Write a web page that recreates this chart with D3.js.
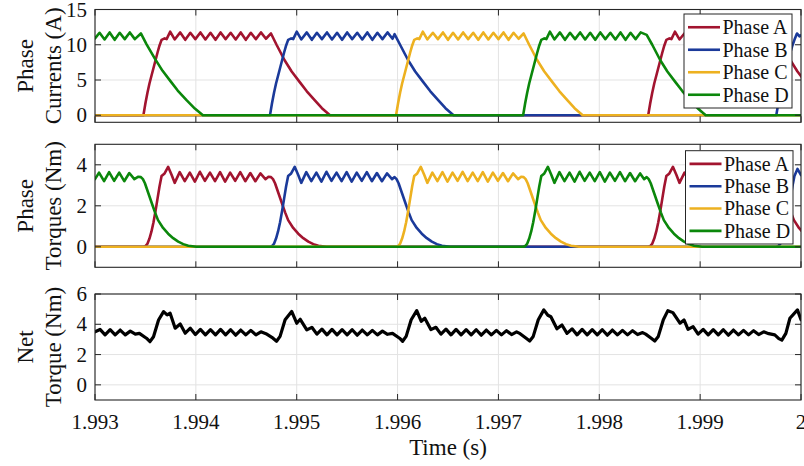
<!DOCTYPE html>
<html>
<head>
<meta charset="utf-8">
<script src="https://cdn.jsdelivr.net/npm/d3@7"></script>
<style>
  body { margin: 0; background: #fff; }
  svg { display: block; }
</style>
</head>
<body>
<svg id="chart" width="804" height="466"></svg>
<script>
// Time samples are given in ms after the start of the window (1.993 s).
const timeOriginS = 1.993;
const xTickValues = [1.993, 1.994, 1.995, 1.996, 1.997, 1.998, 1.999, 2.0];
const xTickLabels = ["1.993", "1.994", "1.995", "1.996", "1.997", "1.998", "1.999", "2"];

const phaseNames = ["Phase A", "Phase B", "Phase C", "Phase D"];
const phaseColors = ["#A2142F", "#1B3A9A", "#EDB120", "#0B870B"];

const currentTicks = [0, 5, 10, 15];
const phaseTorqueTicks = [0, 2, 4];
const netTorqueTicks = [0, 2, 4, 6];

// Phase currents (A): [ms, A]
const phaseACurrent = [[0,0],[0.48,0],[0.5,1.7],[0.52,3.2],[0.54,4.5],[0.56,5.6],[0.58,6.7],[0.6,7.8],[0.62,8.9],[0.64,9.9],[0.66,10.7],[0.69,10.9],[0.71,10.8],[0.745,11.85],[0.79,10.75],
  [0.845,11.75],[0.895,10.7],[0.945,11.7],[0.995,10.8],[1.045,11.75],[1.095,10.75],[1.145,11.7],[1.195,10.7],[1.245,11.75],[1.295,10.8],[1.345,11.7],[1.395,10.75],[1.445,11.75],[1.495,10.7],[1.545,11.7],[1.595,10.8],[1.645,11.75],[1.695,10.85],[1.745,11.6],
  [1.8,10],[1.88,7.8],[1.95,6.2],[2.03,4.7],[2.1,3.4],[2.18,2.1],[2.25,1],[2.33,0],
  [5.485,0],[5.505,1.7],[5.525,3.2],[5.545,4.5],[5.565,5.6],[5.585,6.7],[5.605,7.8],[5.625,8.9],[5.645,9.9],[5.665,10.7],[5.695,10.9],[5.715,10.8],[5.75,11.85],[5.795,10.75],
  [5.85,11.7],[5.9,10.75],[5.95,11.75],[6.0,10.7],[6.05,11.7],[6.1,10.8],[6.15,11.75],[6.2,10.7],[6.25,11.7],[6.3,10.75],[6.35,11.75],[6.4,10.8],[6.45,11.7],[6.5,10.7],[6.55,11.75],[6.6,10.75],[6.65,11.7],[6.7,10.8],[6.76,11.6],
  [6.815,10],[6.895,7.8],[6.965,6.2],[7.045,4.7]];

const phaseBCurrent = [[0,0],[1.735,0],[1.755,1.7],[1.775,3.2],[1.795,4.5],[1.815,5.6],[1.835,6.7],[1.855,7.8],[1.875,8.9],[1.895,9.9],[1.915,10.7],[1.945,10.9],[1.965,10.8],[2.0,11.85],[2.045,10.75],
  [2.1,11.75],[2.15,10.7],[2.2,11.7],[2.25,10.8],[2.3,11.75],[2.35,10.75],[2.4,11.7],[2.45,10.7],[2.5,11.75],[2.55,10.8],[2.6,11.7],[2.65,10.75],[2.7,11.75],[2.75,10.7],[2.8,11.7],[2.85,10.8],[2.9,11.75],[2.95,10.85],[2.97,11.5],
  [3.025,10],[3.105,7.8],[3.175,6.2],[3.255,4.7],[3.325,3.4],[3.405,2.1],[3.475,1],[3.555,0],
  [6.755,0],[6.775,1.7],[6.795,3.2],[6.815,4.5],[6.835,5.6],[6.855,6.7],[6.875,7.8],[6.895,8.9],[6.915,9.9],[6.935,10.7],[6.96,11.6],[6.985,11.2],[7.02,11.5]];

const phaseCCurrent = [[0,0],[2.985,0],[3.005,1.7],[3.025,3.2],[3.045,4.5],[3.065,5.6],[3.085,6.7],[3.105,7.8],[3.125,8.9],[3.145,9.9],[3.165,10.7],[3.195,10.9],[3.215,10.8],[3.25,11.85],[3.295,10.75],
  [3.35,11.7],[3.4,10.8],[3.45,11.75],[3.5,10.7],[3.55,11.7],[3.6,10.75],[3.65,11.75],[3.7,10.8],[3.75,11.7],[3.8,10.7],[3.85,11.75],[3.9,10.75],[3.95,11.7],[4.0,10.8],[4.05,11.75],[4.1,10.7],[4.15,11.7],[4.2,10.85],[4.25,11.6],
  [4.305,10],[4.385,7.8],[4.455,6.2],[4.535,4.7],[4.605,3.4],[4.685,2.1],[4.755,1],[4.835,0],[7,0]];

const phaseDCurrent = [[0,10.9],[0.045,11.7],[0.095,10.75],[0.145,11.75],[0.195,10.7],[0.245,11.7],[0.295,10.8],[0.345,11.75],[0.395,10.8],[0.455,11.6],
  [0.51,10.1],[0.595,8],[0.67,6.3],[0.75,4.8],[0.82,3.5],[0.91,2.1],[0.99,0.95],[1.07,0],
  [4.245,0],[4.265,1.7],[4.285,3.2],[4.305,4.5],[4.325,5.6],[4.345,6.7],[4.365,7.8],[4.385,8.9],[4.405,9.9],[4.425,10.7],[4.455,10.9],[4.475,10.8],[4.51,11.85],[4.555,10.75],
  [4.61,11.75],[4.66,10.7],[4.71,11.7],[4.76,10.8],[4.81,11.75],[4.86,10.75],[4.91,11.7],[4.96,10.7],[5.01,11.75],[5.06,10.8],[5.11,11.7],[5.16,10.75],[5.21,11.75],[5.26,10.7],[5.31,11.7],[5.36,10.8],[5.41,11.75],[5.47,11.4],
  [5.525,10],[5.605,7.8],[5.675,6.2],[5.755,4.7],[5.825,3.4],[5.905,2.1],[5.975,1],[6.055,0],[7,0]];

// Phase torques (Nm): [ms, Nm]
const phaseATorque = [[0,0],[0.48,0],[0.5,0.03],[0.52,0.15],[0.54,0.4],[0.56,0.75],[0.58,1.2],[0.6,1.75],[0.62,2.35],[0.64,2.95],[0.66,3.45],[0.69,3.58],[0.725,3.9],[0.76,3.5],[0.79,3.12],
  [0.84,3.64],[0.89,3.2],[0.94,3.62],[0.99,3.18],[1.04,3.66],[1.09,3.22],[1.14,3.62],[1.19,3.2],[1.24,3.64],[1.29,3.18],[1.34,3.62],[1.39,3.22],[1.44,3.64],[1.49,3.2],[1.54,3.6],[1.59,3.2],[1.64,3.58],[1.69,3.3],[1.72,3.42],
  [1.745,3.4],[1.765,3.3],[1.785,3.1],[1.82,2.6],[1.855,2.1],[1.885,1.68],[1.915,1.3],[1.965,0.92],[2.015,0.64],[2.065,0.42],[2.115,0.25],[2.165,0.13],[2.215,0.05],[2.295,0],
  [5.485,0],[5.505,0.03],[5.525,0.15],[5.545,0.4],[5.565,0.75],[5.585,1.2],[5.605,1.75],[5.625,2.35],[5.645,2.95],[5.665,3.45],[5.695,3.58],[5.73,3.9],[5.765,3.5],[5.795,3.12],
  [5.845,3.62],[5.895,3.2],[5.945,3.64],[5.995,3.18],[6.045,3.62],[6.095,3.22],[6.145,3.66],[6.195,3.2],[6.245,3.62],[6.295,3.2],[6.345,3.64],[6.395,3.18],[6.445,3.62],[6.495,3.22],[6.545,3.6],[6.595,3.2],[6.645,3.58],[6.695,3.3],[6.735,3.42],
  [6.76,3.4],[6.78,3.3],[6.8,3.1],[6.835,2.6],[6.87,2.1],[6.9,1.68],[6.93,1.3],[6.98,0.92],[7.03,0.64]];

const phaseBTorque = [[0,0],[1.735,0],[1.755,0.03],[1.775,0.15],[1.795,0.4],[1.815,0.75],[1.835,1.2],[1.855,1.75],[1.875,2.35],[1.895,2.95],[1.915,3.45],[1.945,3.58],[1.98,3.9],[2.015,3.5],[2.045,3.12],
  [2.095,3.64],[2.145,3.2],[2.195,3.62],[2.245,3.18],[2.295,3.66],[2.345,3.22],[2.395,3.62],[2.445,3.2],[2.495,3.64],[2.545,3.18],[2.595,3.62],[2.645,3.22],[2.695,3.64],[2.745,3.2],[2.795,3.6],[2.845,3.2],[2.895,3.58],[2.945,3.3],
  [2.97,3.4],[2.99,3.3],[3.01,3.1],[3.045,2.6],[3.08,2.1],[3.11,1.68],[3.14,1.3],[3.19,0.92],[3.24,0.64],[3.29,0.42],[3.34,0.25],[3.39,0.13],[3.44,0.05],[3.52,0],
  [6.755,0],[6.775,0.03],[6.795,0.15],[6.815,0.4],[6.835,0.75],[6.855,1.2],[6.875,1.75],[6.895,2.35],[6.915,2.95],[6.935,3.45],[6.965,3.8],[7.0,3.5]];

const phaseCTorque = [[0,0],[2.985,0],[3.005,0.03],[3.025,0.15],[3.045,0.4],[3.065,0.75],[3.085,1.2],[3.105,1.75],[3.125,2.35],[3.145,2.95],[3.165,3.45],[3.195,3.58],[3.23,3.9],[3.265,3.5],[3.295,3.12],
  [3.345,3.62],[3.395,3.2],[3.445,3.64],[3.495,3.18],[3.545,3.62],[3.595,3.22],[3.645,3.66],[3.695,3.2],[3.745,3.62],[3.795,3.2],[3.845,3.64],[3.895,3.18],[3.945,3.62],[3.995,3.22],[4.045,3.6],[4.095,3.2],[4.145,3.58],[4.195,3.3],[4.225,3.42],
  [4.25,3.4],[4.27,3.3],[4.29,3.1],[4.325,2.6],[4.36,2.1],[4.39,1.68],[4.42,1.3],[4.47,0.92],[4.52,0.64],[4.57,0.42],[4.62,0.25],[4.67,0.13],[4.72,0.05],[4.8,0],[7,0]];

const phaseDTorque = [[0,3.3],[0.04,3.62],[0.09,3.2],[0.14,3.64],[0.19,3.22],[0.24,3.62],[0.29,3.2],[0.34,3.6],[0.39,3.3],[0.43,3.42],
  [0.455,3.4],[0.475,3.3],[0.495,3.1],[0.53,2.6],[0.565,2.1],[0.595,1.68],[0.625,1.3],[0.675,0.92],[0.725,0.64],[0.775,0.42],[0.825,0.25],[0.875,0.13],[0.925,0.05],[1.005,0],
  [4.245,0],[4.265,0.03],[4.285,0.15],[4.305,0.4],[4.325,0.75],[4.345,1.2],[4.365,1.75],[4.385,2.35],[4.405,2.95],[4.425,3.45],[4.455,3.58],[4.49,3.9],[4.525,3.5],[4.555,3.12],
  [4.605,3.64],[4.655,3.2],[4.705,3.62],[4.755,3.18],[4.805,3.66],[4.855,3.22],[4.905,3.62],[4.955,3.2],[5.005,3.64],[5.055,3.18],[5.105,3.62],[5.155,3.22],[5.205,3.64],[5.255,3.2],[5.305,3.6],[5.355,3.2],[5.405,3.58],[5.445,3.3],
  [5.47,3.4],[5.49,3.3],[5.51,3.1],[5.545,2.6],[5.58,2.1],[5.61,1.68],[5.64,1.3],[5.69,0.92],[5.74,0.64],[5.79,0.42],[5.84,0.25],[5.89,0.13],[5.94,0.05],[6.02,0],[7,0]];

// Net torque (Nm): [ms, Nm]
const netTorque = [[0,3.5],[0.05,3.66],[0.1,3.3],[0.15,3.65],[0.2,3.3],[0.25,3.62],[0.3,3.3],[0.35,3.55],[0.4,3.35],[0.44,3.4],
  [0.51,3.08],[0.545,2.85],[0.58,3.18],[0.63,4.28],[0.68,4.84],[0.715,4.62],[0.745,4.73],[0.795,3.74],[0.845,4.02],[0.895,3.41],[0.945,3.74],[0.995,3.32],
  [1.045,3.66],[1.095,3.3],[1.145,3.65],[1.195,3.3],[1.245,3.66],[1.295,3.3],[1.345,3.64],[1.395,3.28],[1.445,3.62],[1.495,3.3],[1.545,3.6],[1.595,3.3],[1.645,3.5],[1.695,3.38],
  [1.765,3.08],[1.8,2.88],[1.835,3.2],[1.885,4.3],[1.95,4.85],[2.0,4.07],[2.035,4.33],[2.1,3.63],[2.15,3.8],[2.2,3.35],[2.25,3.68],[2.3,3.3],[2.35,3.66],[2.4,3.3],
  [2.45,3.65],[2.5,3.3],[2.55,3.64],[2.6,3.28],[2.65,3.62],[2.7,3.3],[2.75,3.6],[2.8,3.3],[2.85,3.55],[2.9,3.34],[2.95,3.4],
  [3.02,3.08],[3.05,2.88],[3.085,3.2],[3.135,4.3],[3.19,4.9],[3.235,4.2],[3.27,4.4],[3.33,3.65],[3.38,3.8],[3.43,3.35],[3.48,3.68],[3.53,3.3],[3.58,3.66],[3.63,3.3],
  [3.68,3.65],[3.73,3.3],[3.78,3.64],[3.83,3.28],[3.88,3.62],[3.93,3.3],[3.98,3.6],[4.03,3.3],[4.08,3.58],[4.13,3.32],[4.18,3.5],[4.215,3.38],
  [4.275,3.08],[4.31,2.9],[4.345,3.2],[4.395,4.3],[4.45,4.95],[4.49,4.6],[4.52,4.5],[4.58,3.7],[4.63,3.95],[4.68,3.4],[4.73,3.7],[4.78,3.3],[4.83,3.66],[4.88,3.3],
  [4.93,3.65],[4.98,3.3],[5.03,3.64],[5.08,3.28],[5.13,3.62],[5.18,3.3],[5.23,3.6],[5.28,3.3],[5.33,3.58],[5.38,3.32],[5.43,3.45],[5.46,3.35],
  [5.515,3.08],[5.55,2.9],[5.585,3.2],[5.635,4.3],[5.68,4.9],[5.73,4.77],[5.8,4.07],[5.84,4.29],[5.88,3.67],[5.93,3.85],[5.98,3.35],[6.03,3.66],[6.08,3.3],
  [6.13,3.65],[6.18,3.3],[6.23,3.64],[6.28,3.28],[6.33,3.62],[6.38,3.3],[6.43,3.6],[6.48,3.3],[6.53,3.58],[6.58,3.32],[6.63,3.5],[6.68,3.38],[6.74,3.3],
  [6.78,3.05],[6.81,2.95],[6.85,3.4],[6.89,4.4],[6.965,4.95],[7.0,4.3]];

// ---- layout ----
const plotLeft = 95, plotRight = 801;
const panels = [
  { top: 9.5, bottom: 122.3, domain: [-1, 15], ticks: currentTicks, title: ["Phase", "Currents (A)"],
    series: [phaseACurrent, phaseBCurrent, phaseCCurrent, phaseDCurrent], colors: phaseColors, width: 2.6,
    legend: { x: 684, y: 14, w: 108, h: 94 } },
  { top: 144.3, bottom: 267.3, domain: [-1, 5], ticks: phaseTorqueTicks, title: ["Phase", "Torques (Nm)"],
    series: [phaseATorque, phaseBTorque, phaseCTorque, phaseDTorque], colors: phaseColors, width: 2.6,
    legend: { x: 685.5, y: 150.7, w: 107.5, h: 93.3 } },
  { top: 294, bottom: 400, domain: [-1, 6], ticks: netTorqueTicks, title: ["Net", "Torque (Nm)"],
    series: [netTorque], colors: ["#000000"], width: 3.2, legend: null, xLabels: true }
];

const fontFamily = "Liberation Serif";
const svg = d3.select("#chart");
const x = d3.scaleLinear().domain([1.993, 2.0]).range([plotLeft, plotRight]);
const toSeconds = ms => timeOriginS + ms / 1000;

const tickLen = 6;
const frameColor = "#262626";
const textColor = "#111111";

panels.forEach((p, pi) => {
  const y = d3.scaleLinear().domain(p.domain).range([p.bottom, p.top]);
  const g = svg.append("g");

  // grid
  g.append("g").selectAll("line").data(xTickValues).join("line")
    .attr("x1", d => x(d)).attr("x2", d => x(d))
    .attr("y1", p.top).attr("y2", p.bottom)
    .attr("stroke", "#e3e3e3").attr("stroke-width", 1);
  g.append("g").selectAll("line").data(p.ticks).join("line")
    .attr("x1", plotLeft).attr("x2", plotRight)
    .attr("y1", d => y(d)).attr("y2", d => y(d))
    .attr("stroke", "#e3e3e3").attr("stroke-width", 1);

  // data lines, clipped to the axes box
  const clipId = "clip" + pi;
  svg.append("clipPath").attr("id", clipId).append("rect")
    .attr("x", plotLeft).attr("y", p.top)
    .attr("width", plotRight - plotLeft).attr("height", p.bottom - p.top);
  const line = d3.line().x(d => x(toSeconds(d[0]))).y(d => y(d[1]));
  g.append("g").attr("clip-path", `url(#${clipId})`)
    .selectAll("path").data(p.series).join("path")
    .attr("d", line)
    .attr("fill", "none")
    .attr("stroke", (d, i) => p.colors[i])
    .attr("stroke-width", p.width)
    .attr("stroke-linejoin", "round")
    .attr("stroke-linecap", "round");

  // inward ticks on all four sides
  const tg = g.append("g").attr("stroke", frameColor).attr("stroke-width", 1);
  xTickValues.forEach(t => {
    tg.append("line").attr("x1", x(t)).attr("x2", x(t)).attr("y1", p.bottom).attr("y2", p.bottom - tickLen);
    tg.append("line").attr("x1", x(t)).attr("x2", x(t)).attr("y1", p.top).attr("y2", p.top + tickLen);
  });
  p.ticks.forEach(v => {
    tg.append("line").attr("x1", plotLeft).attr("x2", plotLeft + tickLen).attr("y1", y(v)).attr("y2", y(v));
    tg.append("line").attr("x1", plotRight).attr("x2", plotRight - tickLen).attr("y1", y(v)).attr("y2", y(v));
  });

  // frame
  g.append("rect")
    .attr("x", plotLeft).attr("y", p.top)
    .attr("width", plotRight - plotLeft).attr("height", p.bottom - p.top)
    .attr("fill", "none").attr("stroke", frameColor).attr("stroke-width", 1.1);

  // y tick labels
  g.append("g").selectAll("text").data(p.ticks).join("text")
    .attr("x", plotLeft - 8).attr("y", d => y(d)).attr("dy", "0.34em")
    .attr("text-anchor", "end").attr("font-size", 21).attr("font-family", fontFamily).attr("fill", textColor)
    .text(d => d);

  // x tick labels on the bottom axes only
  if (p.xLabels) {
    g.append("g").selectAll("text").data(xTickValues).join("text")
      .attr("x", d => x(d)).attr("y", 429)
      .attr("text-anchor", "middle").attr("font-size", 21).attr("font-family", fontFamily).attr("fill", textColor)
      .text((d, i) => xTickLabels[i]);
  }

  // two-line y title
  const cy = (p.top + p.bottom) / 2;
  [[32.5, p.title[0]], [60.5, p.title[1]]].forEach(([bx, txt]) => {
    g.append("text")
      .attr("transform", `translate(${bx},${cy}) rotate(-90)`)
      .attr("text-anchor", "middle").attr("font-size", 23).attr("font-family", fontFamily).attr("fill", textColor)
      .text(txt);
  });

  // legend
  if (p.legend) {
    const L = p.legend;
    const lg = g.append("g");
    lg.append("rect").attr("x", L.x).attr("y", L.y).attr("width", L.w).attr("height", L.h)
      .attr("fill", "#fff").attr("stroke", frameColor).attr("stroke-width", 1);
    const rowStep = (L.h - 4) / 4;
    phaseNames.forEach((name, i) => {
      const ry = L.y + 2 + rowStep * (i + 0.5);
      lg.append("line").attr("x1", L.x + 4).attr("x2", L.x + 36).attr("y1", ry).attr("y2", ry)
        .attr("stroke", p.colors[i]).attr("stroke-width", 2.6);
      lg.append("text").attr("x", L.x + 38.5).attr("y", ry).attr("dy", "0.34em")
        .attr("font-size", 20).attr("font-family", fontFamily).attr("fill", textColor).text(name);
    });
  }
});

// x axis title
svg.append("text")
  .attr("x", (plotLeft + plotRight) / 2).attr("y", 455)
  .attr("text-anchor", "middle").attr("font-size", 23).attr("font-family", fontFamily).attr("fill", textColor)
  .text("Time (s)");
</script>
</body>
</html>
